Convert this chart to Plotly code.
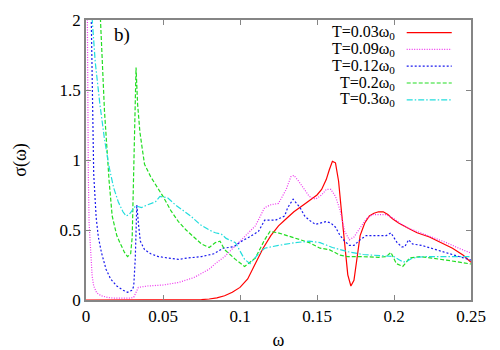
import plotly.graph_objects as go

# T = 0.03 w0
x_t003 = [0.0, 0.06, 0.07, 0.075, 0.08, 0.085, 0.09, 0.095, 0.1, 0.105, 0.11, 0.115, 0.12,
          0.125, 0.13, 0.135, 0.14, 0.145, 0.15, 0.153, 0.156, 0.158, 0.16, 0.162, 0.164,
          0.166, 0.168, 0.17, 0.172, 0.174, 0.176, 0.178, 0.181, 0.184, 0.187, 0.19, 0.193,
          0.196, 0.199, 0.203, 0.208, 0.215, 0.223, 0.23, 0.238, 0.245, 0.25]
y_t003 = [0.0, 0.0, 0.001, 0.003, 0.007, 0.015, 0.03, 0.055, 0.09, 0.15, 0.26, 0.37, 0.46,
          0.53, 0.58, 0.63, 0.67, 0.71, 0.75, 0.79, 0.86, 0.93, 0.99, 0.98, 0.85,
          0.62, 0.38, 0.18, 0.1, 0.14, 0.3, 0.46, 0.55, 0.6, 0.62, 0.63, 0.63,
          0.61, 0.58, 0.55, 0.52, 0.48, 0.45, 0.41, 0.37, 0.32, 0.27]

# T = 0.09 w0
x_t009 = [0.0008, 0.001, 0.0015, 0.002, 0.003, 0.004, 0.005, 0.007, 0.01, 0.014, 0.018, 0.024,
          0.029, 0.031, 0.0325, 0.034, 0.04, 0.05, 0.06, 0.07, 0.08, 0.084, 0.09, 0.1, 0.105,
          0.11, 0.116, 0.12, 0.125, 0.13, 0.133, 0.135, 0.138, 0.141, 0.145, 0.149, 0.153,
          0.156, 0.159, 0.162, 0.165, 0.168, 0.171, 0.174, 0.178, 0.182, 0.186, 0.19, 0.195,
          0.2, 0.205, 0.21, 0.217, 0.225, 0.234, 0.242, 0.25]
y_t009 = [2.2, 1.5, 0.9, 0.55, 0.3, 0.17, 0.1, 0.05, 0.03, 0.018, 0.013, 0.012,
          0.013, 0.02, 0.06, 0.09, 0.1, 0.107, 0.125, 0.16, 0.22, 0.26, 0.31, 0.42, 0.47,
          0.53, 0.66, 0.68, 0.69, 0.79, 0.88, 0.89, 0.85, 0.8, 0.74, 0.72, 0.75,
          0.79, 0.79, 0.74, 0.64, 0.49, 0.43, 0.45, 0.52, 0.58, 0.61, 0.61, 0.61,
          0.58, 0.54, 0.51, 0.48, 0.45, 0.41, 0.37, 0.335]

# T = 0.12 w0
x_t012 = [0.003, 0.0035, 0.004, 0.005, 0.0066, 0.008, 0.01, 0.013, 0.016, 0.02, 0.024, 0.027,
          0.03, 0.031, 0.032, 0.033, 0.034, 0.0353, 0.038, 0.042, 0.047, 0.053, 0.06, 0.066,
          0.075, 0.083, 0.089, 0.096, 0.101, 0.106, 0.112, 0.116, 0.123, 0.129, 0.131,
          0.1345, 0.139, 0.142, 0.145, 0.149, 0.152, 0.156, 0.159, 0.162, 0.165, 0.168,
          0.171, 0.174, 0.178, 0.182, 0.188, 0.195, 0.198, 0.202, 0.205, 0.207, 0.2095,
          0.212, 0.218, 0.227, 0.235, 0.2425, 0.25]
y_t012 = [2.3, 1.9, 1.4, 0.9, 0.59, 0.45, 0.34, 0.22, 0.15, 0.1, 0.07, 0.055,
          0.07, 0.1, 0.3, 0.68, 0.55, 0.42, 0.36, 0.33, 0.31, 0.3, 0.29, 0.3,
          0.31, 0.33, 0.37, 0.38, 0.42, 0.45, 0.49, 0.57, 0.57, 0.6, 0.66,
          0.72, 0.66, 0.6, 0.57, 0.54, 0.55, 0.56, 0.55, 0.52, 0.46, 0.42,
          0.39, 0.39, 0.43, 0.46, 0.46, 0.46, 0.48, 0.41, 0.38, 0.38, 0.43,
          0.4, 0.39, 0.36, 0.33, 0.31, 0.285]

# T = 0.2 w0
x_t02 = [0.0087, 0.0094, 0.012, 0.015, 0.017, 0.02, 0.022, 0.025, 0.027, 0.029, 0.03, 0.031,
         0.0325, 0.0335, 0.035, 0.0368, 0.038, 0.042, 0.046, 0.05, 0.055, 0.06, 0.065, 0.07,
         0.075, 0.08, 0.084, 0.087, 0.09, 0.097, 0.103, 0.1065, 0.11, 0.116, 0.1195, 0.1247,
         0.1357, 0.145, 0.152, 0.158, 0.165, 0.17, 0.178, 0.19, 0.195, 0.198, 0.2015, 0.204,
         0.2057, 0.208, 0.21, 0.217, 0.225, 0.234, 0.25]
y_t02 = [2.1, 2.0, 1.35, 0.85, 0.6, 0.46, 0.41, 0.34, 0.31, 0.33, 0.45, 0.9,
         1.66, 1.4, 1.2, 1.06, 0.97, 0.88, 0.81, 0.74, 0.64, 0.56, 0.5, 0.45,
         0.4, 0.375, 0.41, 0.42, 0.36, 0.29, 0.24, 0.27, 0.3, 0.43, 0.49, 0.48,
         0.44, 0.41, 0.37, 0.36, 0.32, 0.31, 0.31, 0.305, 0.31, 0.34, 0.26, 0.245,
         0.24, 0.27, 0.3, 0.31, 0.3, 0.285, 0.257]

# T = 0.3 w0
x_t03 = [0.0034, 0.004, 0.006, 0.009, 0.012, 0.015, 0.018, 0.021, 0.024, 0.026, 0.028, 0.03,
         0.032, 0.033, 0.036, 0.04, 0.045, 0.048, 0.053, 0.058, 0.063, 0.068, 0.074, 0.08,
         0.084, 0.088, 0.091, 0.097, 0.103, 0.1065, 0.112, 0.116, 0.125, 0.136, 0.145, 0.152,
         0.16, 0.17, 0.18, 0.19, 0.2, 0.203, 0.206, 0.209, 0.212, 0.22, 0.235, 0.25]
y_t03 = [2.1, 2.0, 1.7, 1.4, 1.15, 0.95, 0.8, 0.7, 0.63, 0.6, 0.61, 0.64,
         0.67, 0.67, 0.66, 0.68, 0.7, 0.74, 0.73, 0.68, 0.64, 0.6, 0.54, 0.5,
         0.48, 0.47, 0.44, 0.41, 0.29, 0.26, 0.33, 0.37, 0.39, 0.41, 0.42, 0.41,
         0.375, 0.345, 0.325, 0.315, 0.31, 0.29, 0.27, 0.28, 0.3, 0.31, 0.31, 0.31]

labels = ["T=0.03ω<sub>0</sub>", "T=0.09ω<sub>0</sub>", "T=0.12ω<sub>0</sub>",
          "T=0.2ω<sub>0</sub>", "T=0.3ω<sub>0</sub>"]
colors = ["#ff0000", "#ee33ee", "#1a1aee", "#22dd22", "#22dddd"]
dashes = ["solid", "1px,1.5px", "2px,2px", "4px,2px", "6px,2px,1.5px,2px"]

series = [(x_t003, y_t003), (x_t009, y_t009), (x_t012, y_t012), (x_t02, y_t02), (x_t03, y_t03)]

FONT = "serif"

fig = go.Figure()
for (xs, ys), name, c, d in zip(series, labels, colors, dashes):
    fig.add_trace(go.Scatter(x=xs, y=ys, mode="lines", name=name,
                             line=dict(color=c, width=1.2, dash=d), showlegend=False))

# legend drawn by hand: text right-aligned, sample line to its right
for i, (name, c, d) in enumerate(zip(labels, colors, dashes)):
    yp = 0.955 - i * 0.06
    fig.add_annotation(x=0.807, y=yp, xref="paper", yref="paper", text=name,
                       showarrow=False, xanchor="right", yanchor="middle",
                       font=dict(family=FONT, size=16, color="black"))
    fig.add_shape(type="line", xref="paper", yref="paper", x0=0.833, x1=0.95, y0=yp, y1=yp,
                  line=dict(color=c, width=1.2, dash=d))

fig.add_annotation(x=0.068, y=0.945, xref="paper", yref="paper", text="b)",
                   showarrow=False, xanchor="left", yanchor="middle",
                   font=dict(family=FONT, size=19, color="black"))

axis_style = dict(showline=True, linecolor="#858585", linewidth=1.5, mirror="ticks",
                  ticks="inside", ticklen=5, tickcolor="#858585", tickwidth=1,
                  showgrid=False, zeroline=False, automargin=False,
                  tickfont=dict(family=FONT, size=17, color="black"))

fig.update_xaxes(range=[0, 0.25], tickvals=[0, 0.05, 0.1, 0.15, 0.2, 0.25],
                 ticktext=["0", "0.05", "0.1", "0.15", "0.2", "0.25"],
                 title=dict(text="ω", font=dict(family=FONT, size=18, color="black"), standoff=12),
                 **axis_style)
fig.update_yaxes(range=[0, 2], tickvals=[0, 0.5, 1, 1.5, 2],
                 ticktext=["0", "0.5", "1", "1.5", "2"],
                 title=dict(text="σ(ω)", font=dict(family=FONT, size=18, color="black"), standoff=28),
                 **axis_style)

# the page body has an 8px margin, so the figure is a little smaller than the window
fig.update_layout(width=492, height=342, margin=dict(l=77.5, r=28.5, t=12, b=50),
                  plot_bgcolor="white", paper_bgcolor="white")

fig.write_html("out.html")
